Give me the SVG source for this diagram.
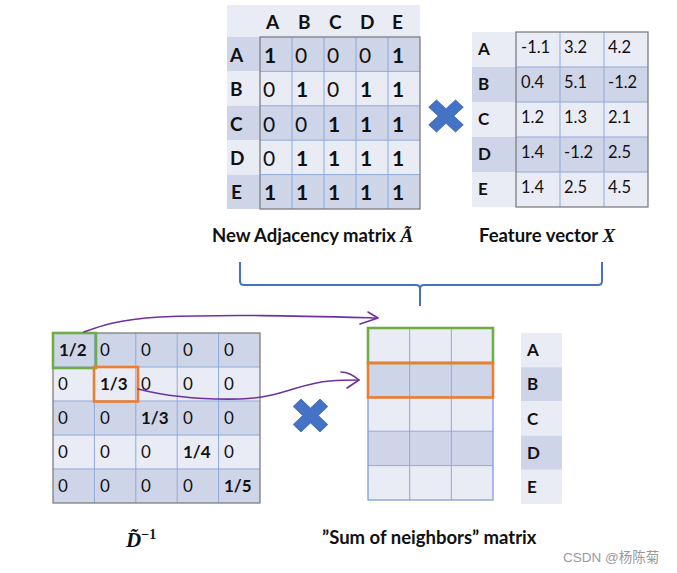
<svg xmlns="http://www.w3.org/2000/svg" width="677" height="573" viewBox="0 0 677 573">
  <style>
    .t { font-family: Lato, "Liberation Sans", sans-serif; fill: #111; }
    .b { font-weight: bold; }
    .v { font-size: 21px; }
    .fv { font-size: 16.5px; }
    .dv { font-size: 17px; }
    .lab { font-size: 19px; font-weight: bold; }
    .rl { font-size: 17px; font-weight: bold; }
    .cap { font-size: 18.5px; font-weight: bold; }
    .math { font-family: "Liberation Serif", "DejaVu Serif", serif; font-style: italic; font-weight: bold; fill: #111; }
    .dk { fill: #cfd5e9; }
    .lt { fill: #e9ebf5; }
    .grid { stroke: #8ea9db; stroke-width: 1; fill: none; }
    .frame { stroke: #7f7f7f; stroke-width: 1.3; fill: none; }
    .bframe { stroke: #7f9fd9; stroke-width: 1.3; fill: none; }
    .times { fill: #4472c4; stroke: #3a64b0; stroke-width: 0.8; }
    .hl-g { fill: none; stroke: #70ad47; stroke-width: 2.6; }
    .hl-o { fill: none; stroke: #ed7d31; stroke-width: 2.6; }
    .conn { fill: none; stroke: #7030a0; stroke-width: 1.6; stroke-linecap: round; stroke-linejoin: round; }
    .brace { fill: none; stroke: #4472c4; stroke-width: 2; stroke-linejoin: round; }
  </style>
  <defs>
    <polygon id="mult" points="0,-7.8 9.5,-17.3 17.3,-9.5 7.8,0 17.3,9.5 9.5,17.3 0,7.8 -9.5,17.3 -17.3,9.5 -7.8,0 -17.3,-9.5 -9.5,-17.3"/>
  </defs>

  <!-- Adjacency matrix with self loops -->
  <g id="adjacency">
    <rect class="lt" x="227" y="5" width="193" height="32"/>
    <rect class="dk" x="227" y="37" width="193" height="34.4"/>
    <rect class="lt" x="227" y="71.4" width="193" height="34.4"/>
    <rect class="dk" x="227" y="105.8" width="193" height="34.4"/>
    <rect class="lt" x="227" y="140.2" width="193" height="34.4"/>
    <rect class="dk" x="227" y="174.6" width="193" height="34.4"/>
    <path class="grid" d="M260,71.4H420M260,105.8H420M260,140.2H420M260,174.6H420M292,37V209M324,37V209M356,37V209M388,37V209"/>
    <rect class="frame" x="260" y="37" width="160" height="172"/>
    <g class="t lab">
      <text x="266" y="29">A</text><text x="298" y="29">B</text><text x="329" y="29">C</text><text x="360" y="29">D</text><text x="392" y="29">E</text>
      <text x="230" y="62">A</text><text x="230" y="96">B</text><text x="230" y="131">C</text><text x="230" y="165">D</text><text x="231" y="199">E</text>
    </g>
    <g class="t v">
      <text x="264" y="63" class="b">1</text><text x="295" y="63">0</text><text x="327" y="63">0</text><text x="359" y="63">0</text><text x="392" y="63" class="b">1</text>
      <text x="263" y="97">0</text><text x="296" y="97" class="b">1</text><text x="327" y="97">0</text><text x="360" y="97" class="b">1</text><text x="392" y="97" class="b">1</text>
      <text x="263" y="132">0</text><text x="295" y="132">0</text><text x="328" y="132" class="b">1</text><text x="360" y="132" class="b">1</text><text x="392" y="132" class="b">1</text>
      <text x="263" y="166">0</text><text x="296" y="166" class="b">1</text><text x="328" y="166" class="b">1</text><text x="360" y="166" class="b">1</text><text x="392" y="166" class="b">1</text>
      <text x="264" y="200" class="b">1</text><text x="296" y="200" class="b">1</text><text x="328" y="200" class="b">1</text><text x="360" y="200" class="b">1</text><text x="392" y="200" class="b">1</text>
    </g>
    <text class="t cap" x="212" y="242">New Adjacency matrix <tspan class="math" font-size="19">Ã</tspan></text>
  </g>

  <!-- Multiplication sign between A and X -->
  <g id="times-top">
    <use href="#mult" class="times" transform="translate(446,116) scale(1,0.93)"/>
  </g>

  <!-- Feature matrix X -->
  <g id="features">
    <rect class="lt" x="472" y="32" width="176" height="35"/>
    <rect class="dk" x="472" y="67" width="176" height="35"/>
    <rect class="lt" x="472" y="102" width="176" height="35"/>
    <rect class="dk" x="472" y="137" width="176" height="35"/>
    <rect class="lt" x="472" y="172" width="176" height="35"/>
    <path class="grid" d="M516,67H648M516,102H648M516,137H648M516,172H648M560,32V207M604,32V207"/>
    <rect class="frame" x="516" y="32" width="132" height="175"/>
    <g class="t rl">
      <text x="478" y="55">A</text><text x="478" y="90">B</text><text x="478" y="125">C</text><text x="478" y="160">D</text><text x="478" y="195">E</text>
    </g>
    <g class="t fv">
      <text x="521" y="53">-1.1</text><text x="564" y="53">3.2</text><text x="608" y="53">4.2</text>
      <text x="521" y="88">0.4</text><text x="564" y="88">5.1</text><text x="608" y="88">-1.2</text>
      <text x="521" y="123">1.2</text><text x="564" y="123">1.3</text><text x="608" y="123">2.1</text>
      <text x="521" y="158">1.4</text><text x="564" y="158">-1.2</text><text x="608" y="158">2.5</text>
      <text x="521" y="193">1.4</text><text x="564" y="193">2.5</text><text x="608" y="193">4.5</text>
    </g>
    <text class="t cap" x="479" y="242">Feature vector <tspan class="math" font-size="19">X</tspan></text>
  </g>

  <!-- Brace joining both operands -->
  <path class="brace" d="M240,262V281Q240,285 244,285H416Q420,285 420,289V306M420,289Q420,285 424,285H598Q602,285 602,281V262"/>

  <!-- Inverse degree matrix -->
  <g id="degree-inverse">
    <rect class="dk" x="53" y="333" width="207" height="34"/>
    <rect class="lt" x="53" y="367" width="207" height="34"/>
    <rect class="dk" x="53" y="401" width="207" height="34"/>
    <rect class="lt" x="53" y="435" width="207" height="34"/>
    <rect class="dk" x="53" y="469" width="207" height="34"/>
    <path class="grid" d="M53,367H260M53,401H260M53,435H260M53,469H260M94.4,333V503M135.8,333V503M177.2,333V503M218.6,333V503"/>
    <rect class="frame" x="53" y="333" width="207" height="170"/>
    <g class="t dv">
      <text x="59" y="356" class="b">1/2</text><text x="100" y="356">0</text><text x="141" y="356">0</text><text x="183" y="356">0</text><text x="224" y="356">0</text>
      <text x="58" y="390">0</text><text x="100" y="390" class="b">1/3</text><text x="141" y="390">0</text><text x="183" y="390">0</text><text x="224" y="390">0</text>
      <text x="58" y="424">0</text><text x="100" y="424">0</text><text x="141" y="424" class="b">1/3</text><text x="183" y="424">0</text><text x="224" y="424">0</text>
      <text x="58" y="458">0</text><text x="100" y="458">0</text><text x="141" y="458">0</text><text x="183" y="458" class="b">1/4</text><text x="224" y="458">0</text>
      <text x="58" y="492">0</text><text x="100" y="492">0</text><text x="141" y="492">0</text><text x="183" y="492">0</text><text x="224" y="492" class="b">1/5</text>
    </g>
    <rect class="hl-g" x="53" y="333" width="43" height="35"/>
    <rect class="hl-o" x="94" y="367" width="44" height="34.5"/>
    <text class="math" x="126" y="547" font-size="21">D̃<tspan font-size="14" dy="-8" font-style="normal">−1</tspan></text>
  </g>

  <!-- Multiplication sign between D^-1 and the sum matrix -->
  <g id="times-bottom">
    <use href="#mult" class="times" transform="translate(310.5,415.5) scale(1,0.95)"/>
  </g>

  <!-- Sum of neighbours matrix -->
  <g id="neighbor-sum">
    <rect class="lt" x="368" y="328" width="125" height="34.4"/>
    <rect class="dk" x="368" y="362.4" width="125" height="34.4"/>
    <rect class="lt" x="368" y="396.8" width="125" height="34.4"/>
    <rect class="dk" x="368" y="431.2" width="125" height="34.4"/>
    <rect class="lt" x="368" y="465.6" width="125" height="34.4"/>
    <path class="grid" d="M368,362.4H493M368,396.8H493M368,431.2H493M368,465.6H493M409.7,328V500M451.3,328V500" stroke="#7f9fd9"/>
    <rect class="bframe" x="368" y="328" width="125" height="172"/>
    <rect class="hl-g" x="368" y="328" width="125" height="35"/>
    <rect class="hl-o" x="368" y="363" width="125" height="34.5"/>
    <text class="t cap" x="322" y="544">”Sum of neighbors” matrix</text>
  </g>

  <!-- Row labels of the result -->
  <g id="result-rows">
    <rect class="lt" x="521" y="333" width="41" height="34.2"/>
    <rect class="dk" x="521" y="367.2" width="41" height="34.2"/>
    <rect class="lt" x="521" y="401.4" width="41" height="34.2"/>
    <rect class="dk" x="521" y="435.6" width="41" height="34.2"/>
    <rect class="lt" x="521" y="469.8" width="41" height="34.2"/>
    <g class="t rl">
      <text x="527" y="356">A</text><text x="527" y="390">B</text><text x="527" y="425">C</text><text x="527" y="459">D</text><text x="527" y="493">E</text>
    </g>
  </g>

  <!-- Hand-drawn arrows from D^-1 rows to result rows -->
  <g id="connectors">
    <path class="conn" d="M84,332C100,326 115,320 160,317C230,314 300,316 377,318"/>
    <path class="conn" d="M368,312L378,318L360,324"/>
    <path class="conn" d="M138,389C165,396 195,400 240,399C280,398 300,383 330,381C342,380 350,380 359,380"/>
    <path class="conn" d="M341,372C346,372 352,374 359,380L347,388"/>
  </g>

  <text x="563" y="562" font-family="'Liberation Sans', 'Noto Sans CJK SC', sans-serif" font-size="13.5" fill="#9a9a9a">CSDN @杨陈菊</text>
</svg>
